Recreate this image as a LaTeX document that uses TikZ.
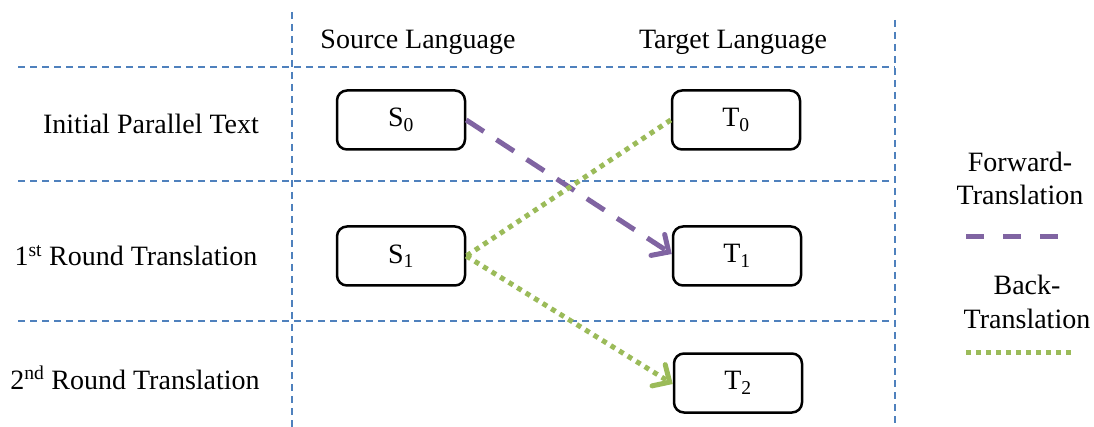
\documentclass[tikz,border=0pt]{standalone}
\usepackage{fontspec}
\setmainfont{Liberation Serif}
\usetikzlibrary{arrows.meta}
\definecolor{gridblue}{HTML}{4F81BD}
\definecolor{fwdpurple}{HTML}{8064A2}
\definecolor{backgreen}{HTML}{9BBB59}
\tikzset{
  gridline/.style={draw=gridblue, line width=1.6pt, dash pattern=on 7pt off 5pt},
  stagebox/.style={draw=black, line width=2.5pt, rounded corners=10pt, minimum width=128pt, minimum height=59pt, inner sep=0pt, font=\fontsize{28}{33}\selectfont},
  lbl/.style={anchor=base, inner sep=0pt, font=\fontsize{28}{33}\selectfont},
  fwd/.style={draw=fwdpurple, line width=5pt, dash pattern=on 21pt off 15pt},
  back/.style={draw=backgreen, line width=5pt, dash pattern=on 5pt off 5pt},
  fwdtip/.style={-{Straight Barb[length=13pt, width=25pt, line width=5pt, line cap=round]}},
}
\begin{document}
\begin{tikzpicture}[x=1pt, y=-1pt]
\useasboundingbox (0,0) rectangle (1094,427);
% grid
\coordinate (v1t) at (292,12);
\coordinate (v1b) at (292,427);
\coordinate (v2t) at (895,20);
\coordinate (v2b) at (895,427);
\coordinate (h1l) at (18,67);
\coordinate (h1r) at (895,67);
\coordinate (h2l) at (18,181);
\coordinate (h2r) at (895,181);
\coordinate (h3l) at (18,321);
\coordinate (h3r) at (895,321);
\draw[gridline] (v1t) -- (v1b);
\draw[gridline] (v2t) -- (v2b);
\draw[gridline] (h1l) -- (h1r);
\draw[gridline] (h2l) -- (h2r);
\draw[gridline] (h3l) -- (h3r);
% headers
\node[lbl] (hsrc) at (418,49) {Source Language};
\node[lbl] (htgt) at (733,49) {Target Language};
% row labels
\node[lbl] (r0) at (151,134) {Initial Parallel Text};
\node[lbl] (r1) at (136,266) {1\textsuperscript{st} Round Translation};
\node[lbl] (r2) at (135,389) {2\textsuperscript{nd} Round Translation};
% boxes
\node[stagebox] (S0) at (401,120) {S\textsubscript{0}};
\node[stagebox] (T0) at (736,120) {T\textsubscript{0}};
\node[stagebox] (S1) at (401,256) {S\textsubscript{1}};
\node[stagebox] (T1) at (737,256) {T\textsubscript{1}};
\node[stagebox] (T2) at (738,383) {T\textsubscript{2}};
% connectors
\draw[fwd, fwdtip] (S0.east) -- ([yshift=2pt]T1.west);
\draw[back] (T0.west) -- (S1.east);
\draw[back, fwdtip] (S1.east) -- ([yshift=-1pt]T2.west);
% legend
\node[lbl] (lf1) at (1020,172) {Forward-};
\node[lbl] (lf2) at (1020,205) {Translation};
\coordinate (lfa) at (966,237);
\coordinate (lfb) at (1059,237);
\draw[fwd, dash pattern=on 18pt off 19pt] (lfa) -- (lfb);
\node[lbl] (lb1) at (1027,295) {Back-};
\node[lbl] (lb2) at (1027,328) {Translation};
\coordinate (lba) at (966,352);
\coordinate (lbb) at (1074,352);
\draw[back] (lba) -- (lbb);
\end{tikzpicture}
\end{document}
